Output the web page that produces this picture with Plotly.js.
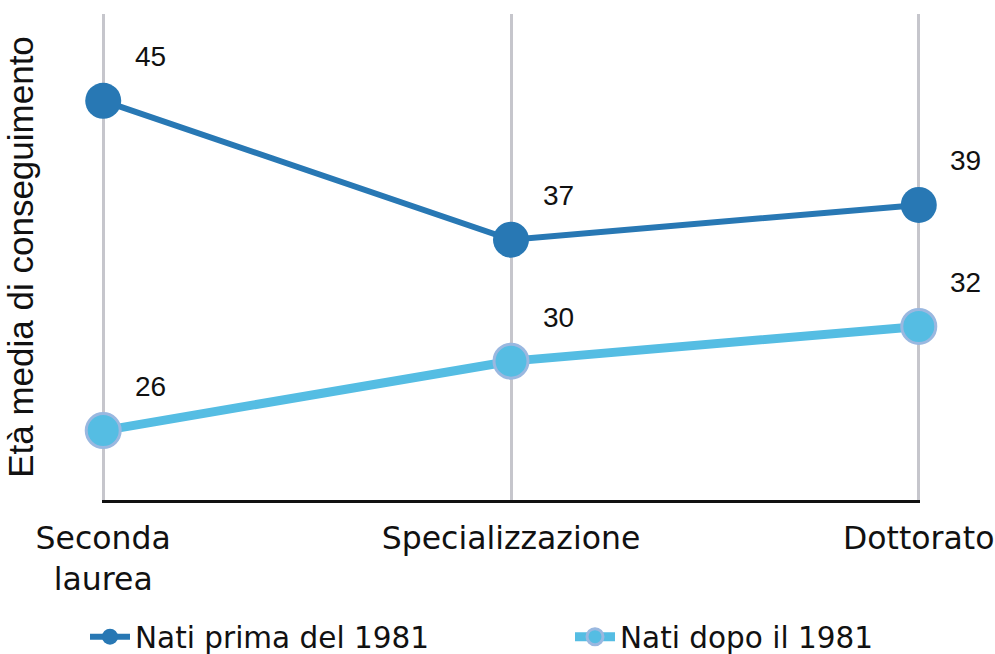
<!DOCTYPE html>
<html><head><meta charset="utf-8">
<script src="https://cdn.plot.ly/plotly-3.0.1.min.js"></script>
<style>html,body{margin:0;padding:0;background:#fff;}</style>
</head><body>
<div id="chart" style="width:995px;height:654px;"></div>
<script>
const categories = ["Seconda<br>laurea", "Specializzazione", "Dottorato"];
const seriesNames = ["Nati prima del 1981", "Nati dopo il 1981"];
const natiPrima = [45, 37, 39];
const natiDopo = [26, 30, 32];

const traces = [
  {x: categories, y: natiPrima, name: seriesNames[0], type: 'scatter', mode: 'lines+markers', cliponaxis: false,
   legend: 'legend',
   line: {color: '#2878b4', width: 6},
   marker: {color: '#2878b4', size: 36, line: {color: '#2878b4', width: 0}}},
  {x: categories, y: natiDopo, name: seriesNames[1], type: 'scatter', mode: 'lines+markers', cliponaxis: false,
   legend: 'legend2',
   line: {color: '#55bde3', width: 9},
   marker: {color: '#55bde3', size: 34, line: {color: '#9ab8e0', width: 3}}}
];

const annotations = [];
[natiPrima, natiDopo].forEach(arr => arr.forEach((v, i) => {
  annotations.push({x: categories[i], y: v, text: String(v), showarrow: false,
    xshift: 47, yshift: 44, font: {family: 'Liberation Sans, Arial', size: 28, color: '#111'}});
}));

const tickFont = 'DejaVu Sans';
const legendBase = {orientation: 'h', xref: 'container', xanchor: 'left', y: 0.026, yref: 'container', yanchor: 'middle',
  itemwidth: 40, font: {family: tickFont, size: 29.5, color: '#111'}};
const layout = {
  width: 995, height: 654,
  margin: {l: 102, r: 75, t: 14, b: 154},
  paper_bgcolor: '#fff', plot_bgcolor: '#fff',
  showlegend: true,
  legend: Object.assign({}, legendBase, {x: 85 / 995}),
  legend2: Object.assign({}, legendBase, {x: 570 / 995}),
  xaxis: {type: 'category', range: [-0.003, 2.003], showgrid: true, gridcolor: '#c6c6cc', gridwidth: 3,
    showline: true, linecolor: '#111', linewidth: 3, ticks: '', zeroline: false, ticklabelstandoff: 8,
    tickfont: {family: tickFont, size: 31.5, color: '#111'}},
  yaxis: {range: [22, 50], showgrid: false, zeroline: false, showticklabels: false, ticks: '', showline: false,
    title: {text: 'Età media di conseguimento', standoff: 56,
      font: {family: 'Liberation Sans, Arial', size: 35, color: '#111'}}},
  annotations: annotations
};
Plotly.newPlot('chart', traces, layout, {displayModeBar: false});
</script>
</body></html>
